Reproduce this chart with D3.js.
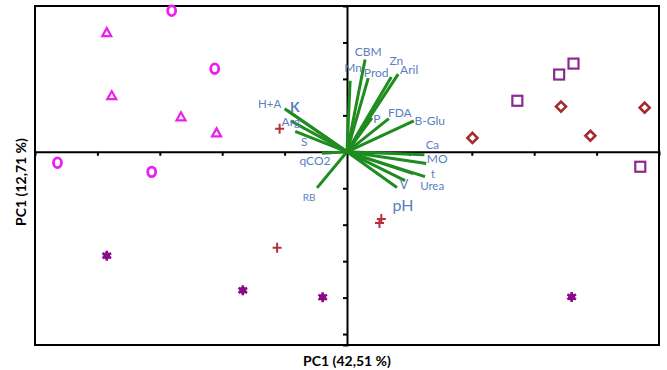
<!DOCTYPE html>
<html>
<head>
<meta charset="utf-8">
<script src="https://cdn.jsdelivr.net/npm/d3@7"></script>
<style>
  body { margin: 0; background: #fff; }
  svg text { font-family: Lato, "Open Sans", sans-serif; }
</style>
</head>
<body>
<svg id="chart" width="667" height="370"></svg>
<script>
// group scores (PC1, PC2)
const circles   = [[-2.81, 3.87], [-2.12, 2.28], [-4.64, -0.30], [-3.13, -0.55]];
const triangles = [[-3.85, 3.27], [-3.77, 1.54], [-2.66, 0.96], [-2.09, 0.52]];
const pluses    = [[-1.08, 0.63], [0.55, -1.84], [0.52, -1.95], [-1.12, -2.63]];
const stars     = [[-3.85, -2.85], [-1.67, -3.80], [-0.39, -3.99], [3.60, -3.98]];
const diamonds  = [[2.01, 0.38], [3.43, 1.24], [3.90, 0.44], [4.77, 1.21]];
const squares   = [[2.73, 1.40], [3.40, 2.12], [3.63, 2.42], [4.70, -0.41]];

// variable loadings (scaled to the score axes)
const varNames = ['H+A', 'K', 'Arg', 'S', 'qCO2', 'RB', 'CBM', 'Mn', 'Prod', 'Zn', 'Aril',
                  'P', 'FDA', 'B-Glu', 'Ca', 'MO', 't', 'Urea', 'V', 'pH'];
const varX = [-1.00, -0.95, -0.90, -0.83, -0.40, -0.48, 0.29, 0.05, 0.34, 0.71, 0.82,
              0.40, 0.67, 1.07, 1.24, 1.27, 1.25, 1.06, 0.80, 0.93];
const varY = [1.18, 1.13, 0.85, 0.56, -0.04, -0.99, 2.53, 1.95, 2.02, 2.05, 2.13,
              0.93, 0.91, 0.85, -0.08, -0.32, -0.68, -0.60, -0.98, -0.79];

const xTicks = [-4, -3, -2, -1, 1, 2, 3, 4];
const yTicks = [-5, -4, -3, -2, -1, 1, 2, 3];

// label placement relative to arrow tip (px) and font size
const LABEL = {
  'H+A': [-15, -5, 11.5], 'K': [7, -4, 14], 'Arg': [0, 1, 12], 'S': [9, 10, 12],
  'qCO2': [-7, 7, 12], 'RB': [-8, 9, 10], 'CBM': [3, -8, 12], 'Mn': [3, -13, 12],
  'Prod': [8, -6, 12], 'Zn': [5, -17, 12], 'Aril': [11, -5, 12], 'P': [5, 1, 12],
  'FDA': [11, -6, 12], 'B-Glu': [16, 0, 12], 'Ca': [8, -10, 11.5], 'MO': [11, -5, 12],
  't': [8, -3, 11], 'Urea': [19, 12, 11.5], 'V': [7, -4, 13], 'pH': [-2, 24, 16]
};

const svg = d3.select('#chart');
const x = d3.scaleLinear().domain([-5, 5]).range([35, 659]);
const y = d3.scaleLinear().domain([-5.3, 4.0]).range([345, 6]);

// frame
svg.append('rect')
  .attr('x', x(-5)).attr('y', y(4))
  .attr('width', x(5) - x(-5)).attr('height', y(-5.3) - y(4))
  .attr('fill', 'none').attr('stroke', '#000').attr('stroke-width', 2);

// axes through origin
const xAxis = d3.axisBottom(x).tickValues(xTicks).tickSize(4).tickFormat('');
const yAxis = d3.axisLeft(y).tickValues(yTicks).tickSize(4).tickFormat('');
const gx = svg.append('g').attr('transform', `translate(0,${y(0)})`).call(xAxis);
const gy = svg.append('g').attr('transform', `translate(${x(0)},0)`).call(yAxis);
[gx, gy].forEach(g => {
  g.select('.domain').attr('stroke', '#000').attr('stroke-width', 2);
  g.selectAll('.tick line').attr('stroke', '#000').attr('stroke-width', 2);
});

// loading vectors
const vars = varNames.map((n, i) => ({name: n, x: varX[i], y: varY[i]}));
svg.append('g').selectAll('line').data(vars).join('line')
  .attr('x1', x(0)).attr('y1', y(0))
  .attr('x2', d => x(d.x)).attr('y2', d => y(d.y))
  .attr('stroke', '#1e8c1e').attr('stroke-width', 3);

svg.append('g').selectAll('text').data(vars).join('text')
  .attr('x', d => x(d.x) + LABEL[d.name][0])
  .attr('y', d => y(d.y) + LABEL[d.name][1])
  .attr('text-anchor', 'middle').attr('dominant-baseline', 'central')
  .attr('font-size', d => LABEL[d.name][2])
  .attr('font-weight', d => d.name == 'K' ? 'bold' : 'normal')
  .attr('fill', '#5a80bf')
  .text(d => d.name);

// group markers
const mk = svg.append('g');
mk.selectAll('.circ').data(circles).join('ellipse')
  .attr('cx', d => x(d[0])).attr('cy', d => y(d[1]))
  .attr('rx', 4).attr('ry', 4.8)
  .attr('fill', 'none').attr('stroke', '#ee1fee').attr('stroke-width', 2.8);

mk.selectAll('.tri').data(triangles).join('path')
  .attr('d', d => {
    const cx = x(d[0]), cy = y(d[1]);
    return `M${cx},${cy - 4.5}L${cx + 4.5},${cy + 3.5}L${cx - 4.5},${cy + 3.5}Z`;
  })
  .attr('fill', 'none').attr('stroke', '#ee1fee').attr('stroke-width', 2.2);

mk.selectAll('.sq').data(squares).join('rect')
  .attr('x', d => x(d[0]) - 5).attr('y', d => y(d[1]) - 5)
  .attr('width', 10).attr('height', 10)
  .attr('fill', 'none').attr('stroke', '#8e2a8e').attr('stroke-width', 2.2);

mk.selectAll('.dia').data(diamonds).join('path')
  .attr('d', d => {
    const cx = x(d[0]), cy = y(d[1]);
    return `M${cx},${cy - 5}L${cx + 5},${cy}L${cx},${cy + 5}L${cx - 5},${cy}Z`;
  })
  .attr('fill', '#fff').attr('stroke', '#a52a2a').attr('stroke-width', 2.6);

mk.selectAll('.plus').data(pluses).join('path')
  .attr('d', d => {
    const cx = x(d[0]), cy = y(d[1]);
    return `M${cx - 4.5},${cy}H${cx + 4.5}M${cx},${cy - 5}V${cy + 5}`;
  })
  .attr('fill', 'none').attr('stroke', '#b5303a').attr('stroke-width', 2);

const star = d3.symbol().type(d3.symbolAsterisk).size(70);
mk.selectAll('.star').data(stars).join('path')
  .attr('transform', d => `translate(${x(d[0])},${y(d[1])})`)
  .attr('d', star)
  .attr('fill', '#8a0a8a').attr('stroke', '#8a0a8a').attr('stroke-width', 2.5);
mk.selectAll('.stardot').data(stars).join('circle')
  .attr('cx', d => x(d[0])).attr('cy', d => y(d[1])).attr('r', 3.5)
  .attr('fill', '#8a0a8a');

// axis titles
svg.append('text')
  .attr('x', x(0)).attr('y', 360)
  .attr('text-anchor', 'middle').attr('dominant-baseline', 'central')
  .attr('font-size', 14).attr('font-weight', 'bold').attr('fill', '#000')
  .text('PC1 (42,51 %)');
svg.append('text')
  .attr('transform', 'translate(20,182) rotate(-90)')
  .attr('text-anchor', 'middle').attr('dominant-baseline', 'central')
  .attr('font-size', 14).attr('font-weight', 'bold').attr('fill', '#000')
  .text('PC1 (12,71 %)');
</script>
</body>
</html>
